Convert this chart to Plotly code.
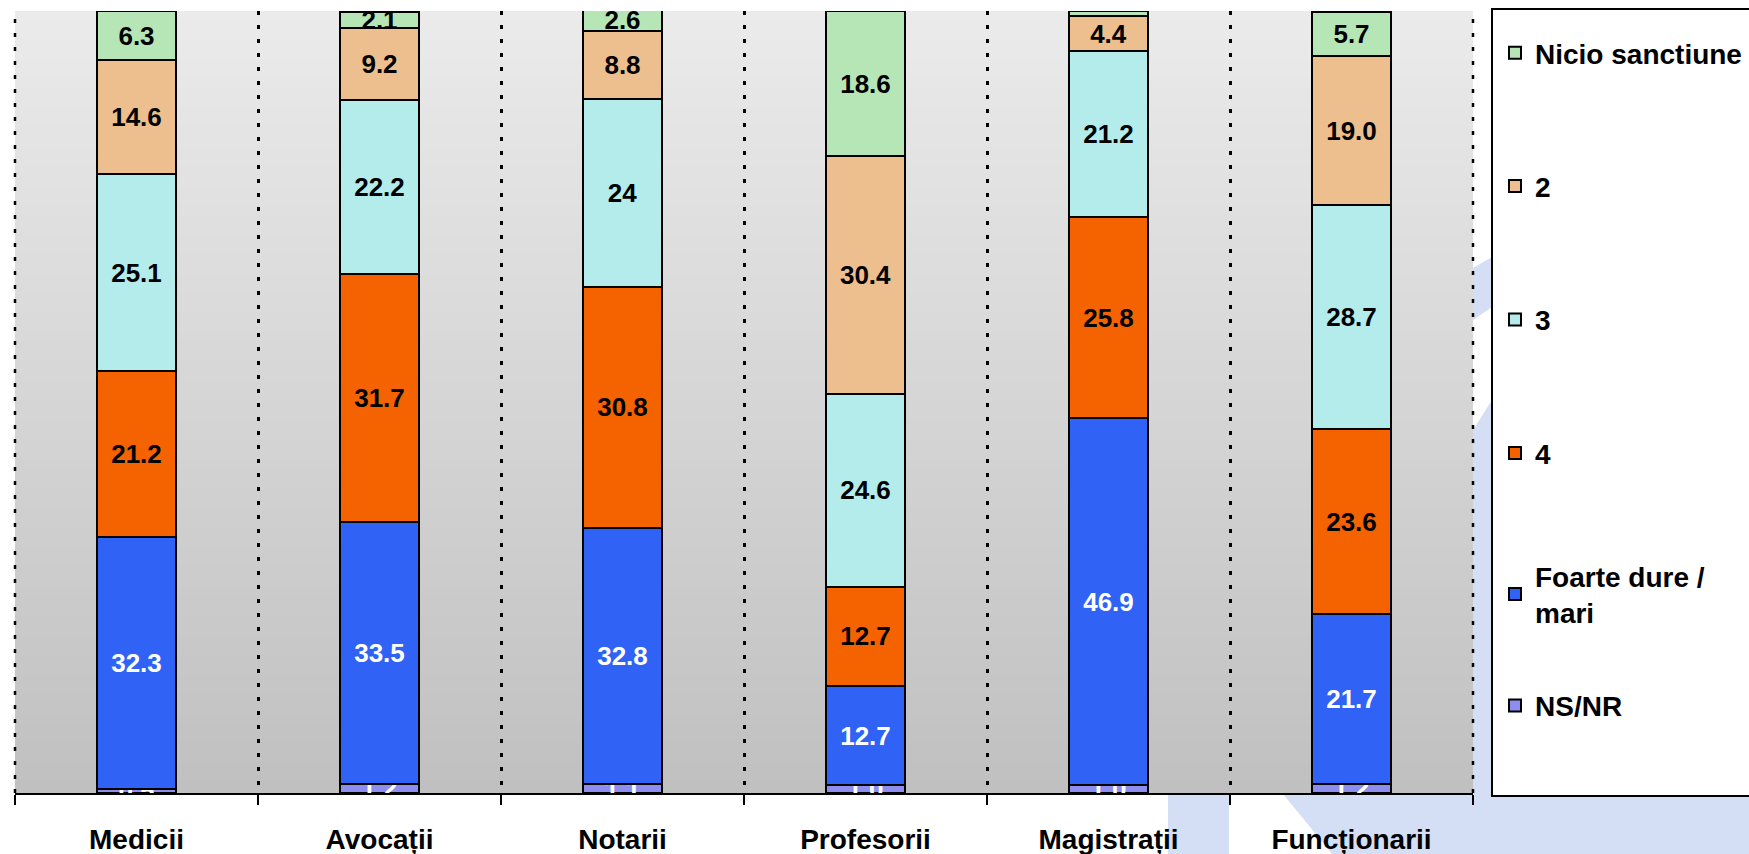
import plotly.graph_objects as go

W, H = 1749, 854
ML, MR, MT, MB = 15, 276, 11, 61
PW, PH = W - ML - MR, H - MT - MB

categories = ["Medicii", "Avocații", "Notarii", "Profesorii", "Magistrații", "Funcționarii"]

ns_nr = [0.5, 1.2, 1.1, 1.0, 1.0, 1.2]
foarte_dure = [32.3, 33.5, 32.8, 12.7, 46.9, 21.7]
sev4 = [21.2, 31.7, 30.8, 12.7, 25.8, 23.6]
sev3 = [25.1, 22.2, 24, 24.6, 21.2, 28.7]
sev2 = [14.6, 9.2, 8.8, 30.4, 4.4, 19.0]
nicio = [6.3, 2.1, 2.6, 18.6, 0.7, 5.7]
nicio_labels = ["6.3", "2.1", "2.6", "18.6", "", "5.7"]

series = [
    ("NS/NR", ns_nr, [str(v) for v in ns_nr], "#8E8EF0", "white", "legend2"),
    ("Foarte dure /<br>mari", foarte_dure, [str(v) for v in foarte_dure], "#2F62F5", "white", "legend2"),
    ("4", sev4, [str(v) for v in sev4], "#F56200", "black", "legend"),
    ("3", sev3, [str(v) for v in sev3], "#B4EBEB", "black", "legend"),
    ("2", sev2, [str(v) for v in sev2], "#EDBE8E", "black", "legend"),
    ("Nicio sanctiune", nicio, nicio_labels, "#B6E6B6", "black", "legend"),
]

FONT = "Liberation Sans, Arial, sans-serif"

fig = go.Figure()
n = len(series)
for i, (name, vals, labels, color, tcolor, leg) in enumerate(series):
    fig.add_trace(go.Bar(
        name=name, x=categories, y=vals, text=labels,
        textposition="inside", insidetextanchor="middle", textangle=0,
        textfont=dict(family=FONT, size=26, color=tcolor, weight="bold"),
        marker=dict(color=color, line=dict(color="black", width=2)),
        legend=leg, legendgroup=f"g{i}", legendrank=n - i,
        cliponaxis=True, hoverinfo="skip",
    ))


def px(x):
    return (x - ML) / PW


def py(y):
    return (H - MB - y) / PH


shapes = []
WM = "#D4DEF5"


def poly(pts):
    d = "M " + " L ".join(f"{px(x):.5f},{py(y):.5f}" for x, y in pts) + " Z"
    return dict(type="path", path=d, xref="paper", yref="paper",
                fillcolor=WM, line=dict(width=0), layer="below")


# watermark logo pieces (outside plot area)
shapes.append(poly([(1168, 794), (1229, 794), (1229, 860), (1168, 860)]))
shapes.append(poly([(1283, 794), (1760, 794), (1760, 860), (1337, 860)]))
shapes.append(poly([(1473, 268), (1492, 257), (1492, 307), (1473, 320)]))
shapes.append(poly([(1473, 430), (1492, 400), (1492, 794), (1473, 794)]))

# vertical gradient background of plot area
N = 80
top = (235, 235, 235)
bot = (192, 192, 192)
for k in range(N):
    t = (k + 0.5) / N
    c = tuple(round(top[j] + (bot[j] - top[j]) * t) for j in range(3))
    shapes.append(dict(type="rect", xref="x domain", yref="y domain",
                       x0=0, x1=1, y0=1 - (k + 1) / N, y1=min(1, 1 - k / N + 0.002),
                       fillcolor=f"rgb{c}", line=dict(width=0), layer="below"))

# dotted edge lines of the plot area
for xe in (0, 1):
    shapes.append(dict(type="line", xref="x domain", yref="y domain",
                       x0=xe, x1=xe, y0=0, y1=1,
                       line=dict(color="black", width=2.5, dash="4px,10px"), layer="below"))

# legend frame
shapes.append(dict(type="rect", xref="paper", yref="paper",
                   x0=px(1492), x1=px(1770), y0=py(796), y1=py(9),
                   fillcolor="white", line=dict(color="black", width=2), layer="above"))

legend_common = dict(
    xref="container", yref="container", x=1495 / W, xanchor="left", yanchor="top",
    bgcolor="rgba(0,0,0,0)", borderwidth=0, maxheight=900,
    font=dict(family=FONT, size=28, color="black", weight="bold"),
    traceorder="grouped",
)

fig.update_layout(
    width=W, height=H,
    barmode="stack", bargap=0.675,
    margin=dict(l=ML, r=MR, t=MT, b=MB, autoexpand=False),
    paper_bgcolor="white", plot_bgcolor="rgba(0,0,0,0)",
    font=dict(family=FONT, color="black"),
    uniformtext=dict(minsize=26, mode="show"),
    shapes=shapes,
    legend=dict(legend_common, y=1 - 28 / H, tracegroupgap=94),
    legend2=dict(legend_common, y=1 - 551 / H, tracegroupgap=54),
    xaxis=dict(
        type="category", range=[-0.5, 5.5], automargin=False,
        showline=True, linecolor="black", linewidth=2,
        ticks="outside", ticklen=10, tickwidth=2, tickcolor="black",
        tickson="boundaries",
        showgrid=True, gridcolor="black", gridwidth=2.5, griddash="4px,10px",
        tickfont=dict(family=FONT, size=28, color="black", weight="bold"),
        ticklabelstandoff=20,
    ),
    yaxis=dict(range=[0, 100], visible=False, automargin=False),
)

fig.write_html("out.html", config={"displayModeBar": False},
               post_script="document.body.style.margin='0';")
